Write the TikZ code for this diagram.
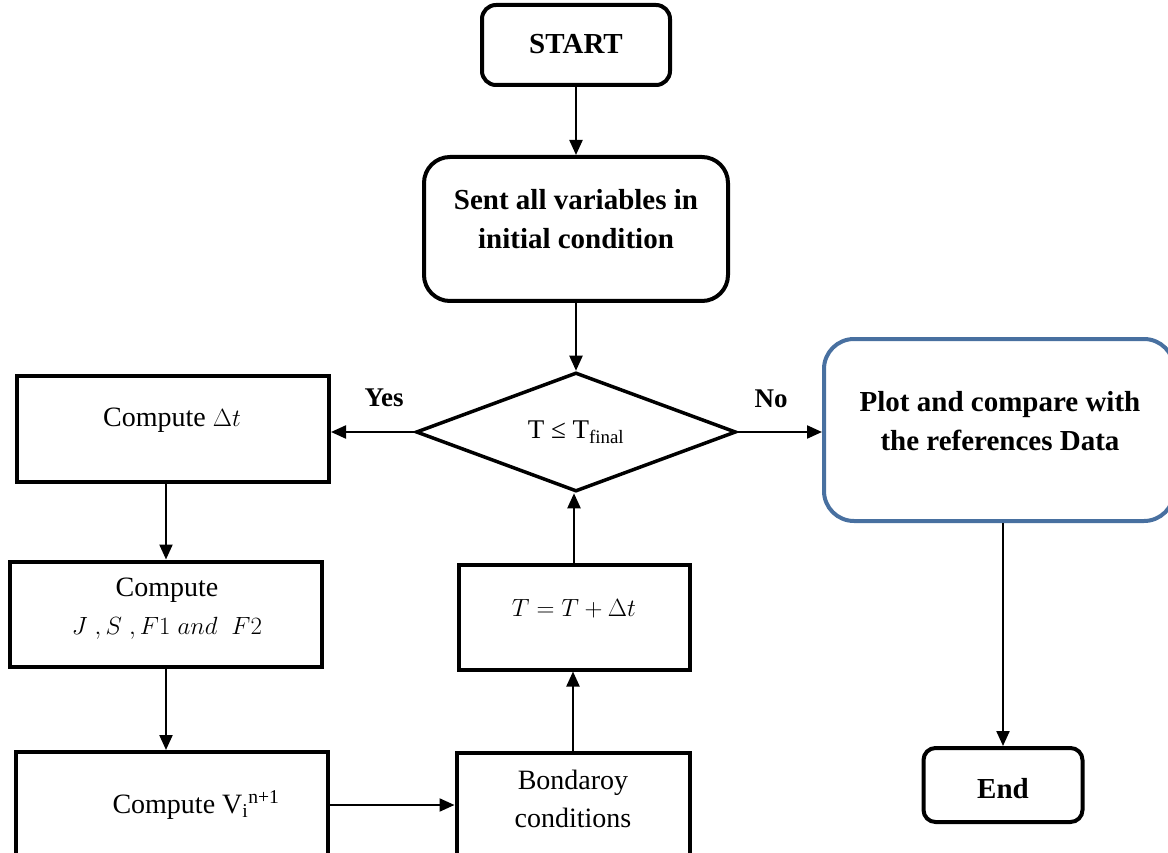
\documentclass[tikz,border=0pt]{standalone}
\usepackage{fontspec}
\setmainfont{Liberation Serif}
\usetikzlibrary{arrows.meta,shapes.geometric}
\definecolor{plotblue}{RGB}{72,112,160}
\tikzset{
  box/.style={draw, line width=4pt, inner sep=0pt, rectangle},
  rbox/.style={box, rounded corners=#1},
  txt/.style={font=\fontsize{28}{38}\selectfont, align=center, inner sep=0pt},
  btxt/.style={font=\fontsize{29}{39}\selectfont\bfseries, align=center, inner sep=0pt},
  arr/.style={-{Triangle[length=15pt,width=13pt]}, line width=2.2pt},
}
\begin{document}
\begin{tikzpicture}[x=1pt,y=-1pt]
\useasboundingbox (0,0) rectangle (1168,853);
\clip (0,0) rectangle (1168,853);
% START
\node[rbox=14pt, minimum width=188pt, minimum height=80pt] (start) at (576,45) {};
\node[btxt] (starttxt) at (576,44) {START};
% Sent
\node[rbox=26pt, minimum width=304pt, minimum height=144pt] (sent) at (576,229) {};
\node[btxt] (senttxt) at (576,219) {Sent all variables in\\initial condition};
% Diamond
\node[draw, diamond, line width=3.5pt, minimum width=320pt, minimum height=112pt, inner sep=0pt,
      font=\fontsize{27}{30}\selectfont] (dec) at (576,432) {T ≤ T\textsubscript{final}};
\node[btxt, font=\fontsize{27}{30}\selectfont\bfseries] (yes) at (384,398) {Yes};
\node[btxt, font=\fontsize{27}{30}\selectfont\bfseries] (no) at (771,399) {No};
% Compute dt
\node[box, minimum width=312pt, minimum height=106pt] (dt) at (173,429) {};
\node[txt] (dttxt) at (172,420) {Compute $\Delta t$};
% Compute J S
\node[box, minimum width=312pt, minimum height=105pt] (js) at (166,614) {};
\node[txt] (jstxt) at (167,609) {Compute\\$J\ ,S\ ,F1\ and\ \ F2$};
% Compute V
\node[box, minimum width=312pt, minimum height=160pt, anchor=north] (vb) at (172,750) {};
\node[txt] (vtxt) at (196,805) {Compute V\textsubscript{i}\textsuperscript{n+1}};
% Bondaroy
\node[box, minimum width=233pt, minimum height=160pt, anchor=north] (bc) at (573,751) {};
\node[txt] (bctxt) at (573,799) {Bondaroy\\conditions};
% T = T + dt
\node[box, minimum width=231pt, minimum height=105pt] (tt) at (574,617) {};
\node[txt] (tttxt) at (574,609) {$T = T + \Delta t$};
% Plot
\node[rbox=30pt, draw=plotblue, minimum width=350pt, minimum height=182pt] (plot) at (999,430) {};
\node[btxt] (plottxt) at (1000,421) {Plot and compare with\\the references Data};
% End
\node[rbox=12pt, minimum width=159pt, minimum height=74pt] (endb) at (1003,785) {};
\node[btxt] (endtxt) at (1003,789) {End};
% connectors
\draw[arr] (start.south) -- (sent.north);
\draw[arr] (sent.south) -- (dec.north);
\draw[arr] (dec.west) -- (dt.east |- dec.west);
\draw[arr] (dec.east) -- (plot.west |- dec.east);
\draw[arr] (dt.south -| js.north) -- (js.north);
\draw[arr] (js.south) -- (js.south |- vb.north);
\draw[arr] (vtxt -| vb.east) -- (vtxt -| bc.west);
\draw[arr] (bc.north) -- (bc.north |- tt.south);
\draw[arr] (tt.north) -- (tt.north |- dec.south);
\draw[arr] (plot.south -| endb.north) -- (endb.north);
\end{tikzpicture}
\end{document}
